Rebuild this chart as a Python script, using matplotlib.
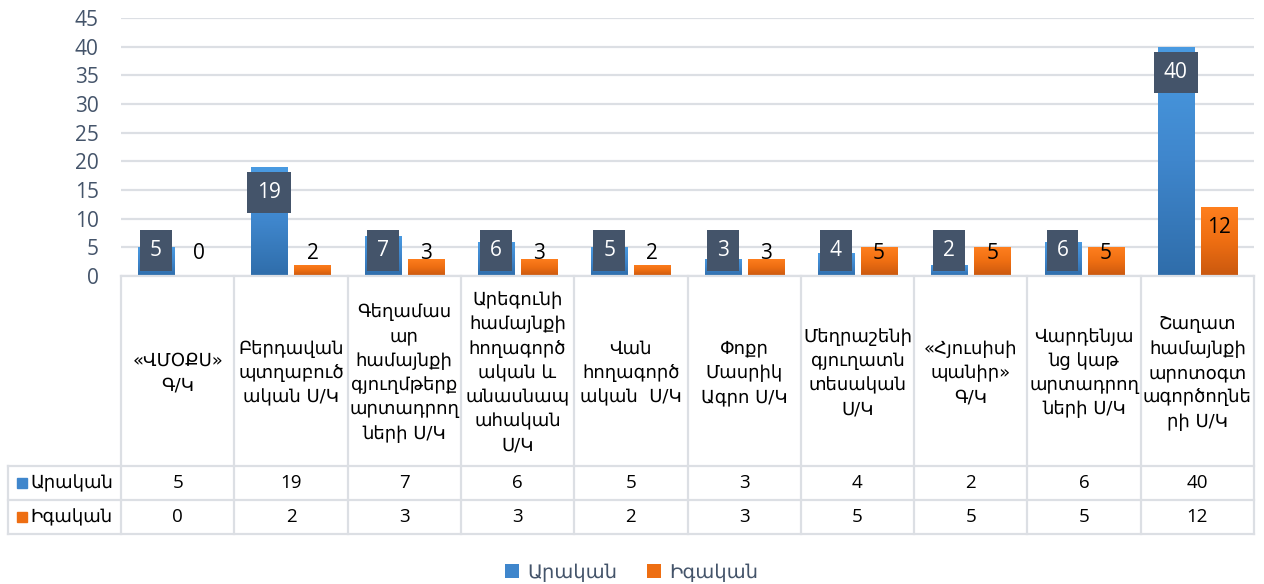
import numpy as np
import matplotlib
matplotlib.use("Agg")
import matplotlib.pyplot as plt
from matplotlib.colors import LinearSegmentedColormap
from matplotlib.patches import Rectangle

plt.rcParams['font.family'] = ['Open Sans', 'DejaVu Sans']

categories = [
    "«ՎՄՕՔՍ»\nԳ/Կ",
    "Բերդավան\nպտղաբուծ\nական Ս/Կ",
    "Գեղամաս\nար\nհամայնքի\nգյուղմթերք\nարտադրող\nների Ս/Կ",
    "Արեգունի\nհամայնքի\nհողագործ\nական և\nանասնապ\nահական\nՍ/Կ",
    "Վան\nհողագործ\nական  Ս/Կ",
    "Փոքր\nՄասրիկ\nԱգրո Ս/Կ",
    "Մեղրաշենի\nգյուղատն\nտեսական\nՍ/Կ",
    "«Հյուսիսի\nպանիր»\nԳ/Կ",
    "Վարդենյա\nնց կաթ\nարտադրող\nների Ս/Կ",
    "Շաղատ\nհամայնքի\nարոտօգտ\nագործողնե\nրի Ս/Կ",
]
series_names = ["Արական", "Իգական"]
male = [5, 19, 7, 6, 5, 3, 4, 2, 6, 40]
female = [0, 2, 3, 3, 2, 3, 5, 5, 5, 12]
yticks = [0, 5, 10, 15, 20, 25, 30, 35, 40, 45]

W, H = 1264, 584
fig = plt.figure(figsize=(W / 100, H / 100), dpi=100)
fig.patch.set_facecolor("white")

GRID = "#DCDFE4"
SLATE = "#44546A"
blue_cmap = LinearSegmentedColormap.from_list("b", ["#2F6DAA", "#3F86CC", "#4A9BE2"])
orange_cmap = LinearSegmentedColormap.from_list("o", ["#C9580F", "#EE6E12", "#FF7F1E"])

# plot area (pixel layout)
L, R, T, B = 121, 1254, 18, 276
ax = fig.add_axes([L / W, 1 - B / H, (R - L) / W, (B - T) / H])
n = len(categories)
x = np.arange(n)
bw = 0.318
off = 0.19

bars_m = ax.bar(x - off, male, bw, color="none", zorder=3)
bars_f = ax.bar(x + off, female, bw, color="none", zorder=3)

grad = np.linspace(0, 1, 256).reshape(-1, 1)
for bars, cmap in ((bars_m, blue_cmap), (bars_f, orange_cmap)):
    for p in bars:
        h = p.get_height()
        if h <= 0:
            continue
        x0 = p.get_x()
        im = ax.imshow(grad, extent=(x0, x0 + p.get_width(), 0, h), origin="lower",
                       cmap=cmap, aspect="auto", zorder=2.5, interpolation="bilinear")
        im.set_clip_path(p)

# data labels
for i, v in enumerate(male):
    yl = max(v - 4.5, 4.5)
    ax.text(i - off, yl, str(v), ha="center", va="center", color="white", fontsize=15,
            zorder=5, bbox=dict(boxstyle="square,pad=0.48", fc=SLATE, ec="none"))
for i, v in enumerate(female):
    yl = max(v - 3.6, 4.0)
    ax.text(i + off, yl, str(v), ha="center", va="center", color="black", fontsize=15, zorder=5)

ax.set_xlim(-0.5, n - 0.5)
ax.set_ylim(0, 45)
ax.set_yticks(yticks)
ax.set_xticks([])
ax.tick_params(axis="y", length=0, pad=16, labelsize=15, labelcolor=SLATE)
ax.grid(axis="y", color=GRID, linewidth=1.6, zorder=0)
ax.set_axisbelow(True)
for s in ax.spines.values():
    s.set_visible(False)

# data table
TL = 8
TB = 534
tax = fig.add_axes([TL / W, 1 - TB / H, (R - TL) / W, (TB - B) / H])
colw = (R - L) / n
xleft = -0.5 - (L - TL) / colw
tax.set_xlim(xleft, n - 0.5)
tax.set_ylim(TB - B, 0)
tax.axis("off")
hdr = 466 - B
r1 = 500 - B
r2 = TB - B
lw = 1.6
tax.plot([-0.5, n - 0.5], [0, 0], color=GRID, lw=lw, clip_on=False)
for yy in (hdr, r1, r2):
    tax.plot([xleft, n - 0.5], [yy, yy], color=GRID, lw=lw, clip_on=False)
for k in range(n + 1):
    tax.plot([k - 0.5, k - 0.5], [0, r2], color=GRID, lw=lw, clip_on=False)
tax.plot([xleft, xleft], [hdr, r2], color=GRID, lw=lw, clip_on=False)

for i, c in enumerate(categories):
    tax.text(i, hdr / 2 + 2, c, ha="center", va="center", fontsize=13, linespacing=1.45,
             family=["DejaVu Sans"], color="black")
for i in range(n):
    tax.text(i, (hdr + r1) / 2, str(male[i]), ha="center", va="center", fontsize=13.5, color="black")
    tax.text(i, (r1 + r2) / 2, str(female[i]), ha="center", va="center", fontsize=13.5, color="black")

keyx = xleft + (22 - TL) / colw
for yc, col, name in (((hdr + r1) / 2, "#3F86CC", series_names[0]),
                      ((r1 + r2) / 2, "#EE6E12", series_names[1])):
    tax.plot([keyx], [yc], marker="s", markersize=7.5, color=col, clip_on=False)
    tax.text(keyx + 0.07, yc, name, ha="left", va="center", fontsize=13, color="black",
             family=["DejaVu Sans"])

# legend
handles = [Rectangle((0, 0), 1, 1, fc="#3F86CC", ec="none"),
           Rectangle((0, 0), 1, 1, fc="#EE6E12", ec="none")]
leg = fig.legend(handles, series_names, loc="center", bbox_to_anchor=(0.5, 1 - 572 / H),
                 ncol=2, frameon=False, fontsize=14, handlelength=0.7, handleheight=0.7,
                 handletextpad=0.45, columnspacing=1.5)
for t in leg.get_texts():
    t.set_color(SLATE)
    t.set_family(["DejaVu Sans"])

fig.savefig("out.png", dpi=100, facecolor="white")
